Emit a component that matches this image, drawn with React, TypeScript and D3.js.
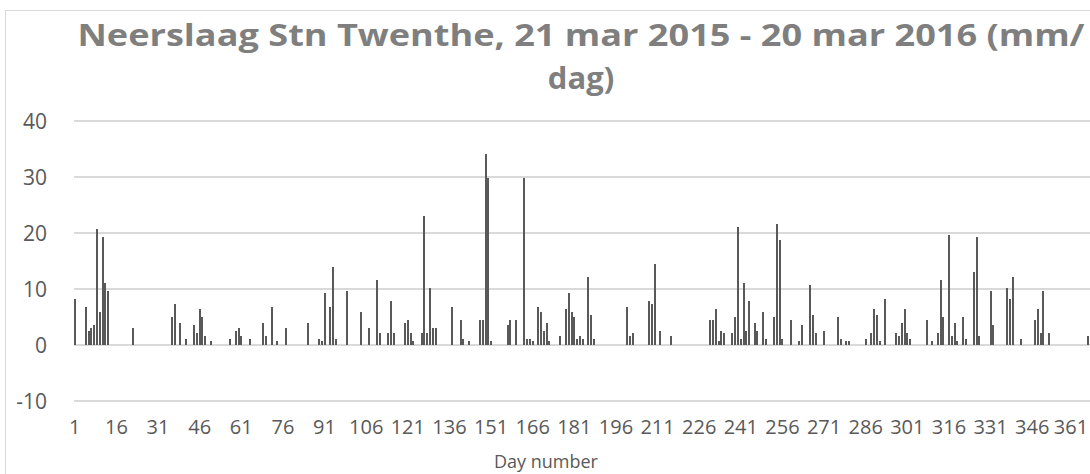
import React, { useEffect, useRef } from 'react';
import * as d3 from 'd3';

// dagen met neerslag (dagnummer) en hoeveelheid in mm
const wetDays = [
  1, 5, 6, 7, 8, 9, 10, 11, 12, 13, 22, 36, 37, 39, 41, 44, 45, 46, 47, 48,
  50, 57, 59, 60, 61, 64, 69, 70, 72, 74, 77, 85, 89, 90, 91, 93, 94, 95, 99, 104,
  107, 110, 111, 114, 115, 116, 120, 121, 122, 123, 126, 127, 128, 129, 130, 131, 137, 140, 141, 143,
  147, 148, 149, 150, 151, 157, 158, 160, 163, 164, 165, 166, 168, 169, 170, 171, 172, 176, 178, 179,
  180, 181, 182, 183, 184, 186, 187, 188, 200, 201, 202, 208, 209, 210, 212, 216, 230, 231, 232, 233,
  234, 235, 238, 239, 240, 241, 242, 243, 244, 246, 247, 249, 250, 253, 254, 255, 256, 259, 262, 263,
  266, 267, 268, 271, 276, 277, 279, 280, 286, 288, 289, 290, 291, 293, 297, 298, 299, 300, 301, 302,
  308, 310, 312, 313, 314, 316, 317, 318, 319, 321, 322, 325, 326, 327, 331, 332, 337, 338, 339, 342,
  347, 348, 349, 350, 352, 366,
];

const wetMm = [
  8.2, 6.8, 2.5, 3.0, 3.6, 20.7, 5.9, 19.3, 11.1, 9.6, 3.0, 5.0, 7.3, 3.9, 1.1, 3.6, 2.1, 6.4, 5.0, 1.6,
  0.7, 1.1, 2.5, 3.0, 1.6, 1.1, 3.9, 1.6, 6.8, 0.7, 3.0, 3.9, 1.1, 0.7, 9.3, 6.8, 13.9, 1.1, 9.6, 5.9,
  3.0, 11.6, 2.1, 2.1, 7.9, 2.1, 3.9, 4.5, 2.1, 0.7, 2.1, 23.0, 2.1, 10.2, 3.0, 3.0, 6.8, 4.5, 1.1, 0.7,
  4.5, 4.5, 34.1, 29.8, 0.7, 3.6, 4.5, 4.5, 29.8, 1.1, 1.1, 0.7, 6.8, 5.9, 2.5, 3.9, 0.7, 1.6, 6.4, 9.3,
  5.9, 5.0, 1.1, 1.6, 1.1, 12.1, 5.4, 1.1, 6.8, 1.6, 2.1, 7.9, 7.3, 14.5, 2.5, 1.6, 4.5, 4.5, 6.4, 0.7,
  2.5, 2.1, 2.1, 5.0, 21.1, 1.1, 11.1, 2.5, 7.9, 3.9, 2.5, 5.9, 1.1, 5.0, 21.6, 18.8, 1.1, 4.5, 0.7, 3.6,
  10.7, 5.4, 2.1, 2.5, 5.0, 1.1, 0.7, 0.7, 1.1, 2.1, 6.4, 5.4, 0.7, 8.2, 2.1, 1.6, 3.9, 6.4, 2.1, 1.1,
  4.5, 0.7, 2.1, 11.6, 5.0, 19.6, 1.6, 3.9, 0.7, 5.0, 1.1, 13.0, 19.3, 1.6, 9.6, 3.6, 10.2, 8.2, 12.1, 1.1,
  4.5, 6.4, 2.1, 9.6, 2.1, 1.6,
];

const yTicks = [-10, 0, 10, 20, 30, 40];
const xTickDays = [1, 16, 31, 46, 61, 76, 91, 106, 121, 136, 151, 166, 181, 196, 211, 226, 241, 256, 271, 286, 301, 316, 331, 346, 361];

const titleLines = ['Neerslaag Stn Twenthe, 21 mar 2015 - 20 mar 2016 (mm/', 'dag)'];
const xTitle = 'Day number';

const App = () => {
  const chartRef = useRef<SVGSVGElement>(null);

  useEffect(() => {
    const width = 1090;
    const height = 474;
    const font = "'Open Sans', 'DejaVu Sans', sans-serif";
    const margin = { left: 73.4, right: 1089.1, top: 121, bottom: 401 };

    const days = d3.range(1, 367);
    const lookup = new Map(wetDays.map((d, i) => [d, wetMm[i]]));
    const data = days.map((d) => ({ day: d, mm: lookup.get(d) ?? 0 }));

    const svg = d3.select(chartRef.current);
    svg.selectAll('*').remove();
    svg.attr('width', width).attr('height', height);

    svg.append('rect').attr('width', width).attr('height', height).attr('fill', '#ffffff');

    // kader van de grafiek
    svg
      .append('rect')
      .attr('x', 5.5)
      .attr('y', 10.5)
      .attr('width', 1200)
      .attr('height', 600)
      .attr('fill', 'none')
      .attr('stroke', '#d9d9d9')
      .attr('stroke-width', 1);

    const x = d3
      .scaleBand<number>()
      .domain(days)
      .range([margin.left, margin.right])
      .paddingInner(0.28)
      .paddingOuter(0.14);

    const y = d3.scaleLinear().domain([-10, 40]).range([margin.bottom, margin.top]);

    // rasterlijnen
    svg
      .append('g')
      .selectAll('line')
      .data(yTicks)
      .join('line')
      .attr('x1', 74)
      .attr('x2', width)
      .attr('y1', (d) => y(d))
      .attr('y2', (d) => y(d))
      .attr('stroke', '#d9d9d9')
      .attr('stroke-width', 2);

    // staven
    svg
      .append('g')
      .attr('shape-rendering', 'crispEdges')
      .selectAll('rect')
      .data(data.filter((d) => d.mm > 0))
      .join('rect')
      .attr('x', (d) => x(d.day) as number)
      .attr('width', x.bandwidth())
      .attr('y', (d) => y(d.mm))
      .attr('height', (d) => y(0) - y(d.mm))
      .attr('fill', '#595959');

    // y-as labels
    svg
      .append('g')
      .selectAll('text')
      .data(yTicks)
      .join('text')
      .attr('x', 47)
      .attr('y', (d) => y(d))
      .attr('dy', '0.36em')
      .attr('text-anchor', 'end')
      .style('font-family', font)
      .style('font-size', '21px')
      .style('fill', '#595959')
      .text((d) => d);

    // x-as labels (laatste label tegen de rand)
    svg
      .append('g')
      .selectAll('text')
      .data(xTickDays)
      .join('text')
      .attr('x', (d) => Math.min((x(d) as number) + x.bandwidth() / 2, 1071))
      .attr('y', 434)
      .attr('text-anchor', 'middle')
      .style('font-family', font)
      .style('font-size', '20px')
      .style('fill', '#595959')
      .text((d) => d);

    svg
      .append('text')
      .attr('x', 546)
      .attr('y', 468)
      .attr('text-anchor', 'middle')
      .style('font-family', font)
      .style('font-size', '18px')
      .style('fill', '#595959')
      .text(xTitle);

    // titel, twee regels
    const title = svg
      .append('text')
      .attr('text-anchor', 'middle')
      .style('font-family', font)
      .style('font-size', '31px')
      .style('font-weight', 'bold')
      .style('fill', '#7f7f7f');

    title
      .selectAll('tspan')
      .data(titleLines)
      .join('tspan')
      .attr('x', 581)
      .attr('y', (d, i) => 46 + i * 43)
      .attr('textLength', (d, i) => (i === 0 ? 1007 : null))
      .attr('lengthAdjust', 'spacingAndGlyphs')
      .text((d) => d);
  }, []);

  return (
    <div style={{ position: 'absolute', left: 0, top: 0 }}>
      <svg ref={chartRef}></svg>
    </div>
  );
};

export default App;
